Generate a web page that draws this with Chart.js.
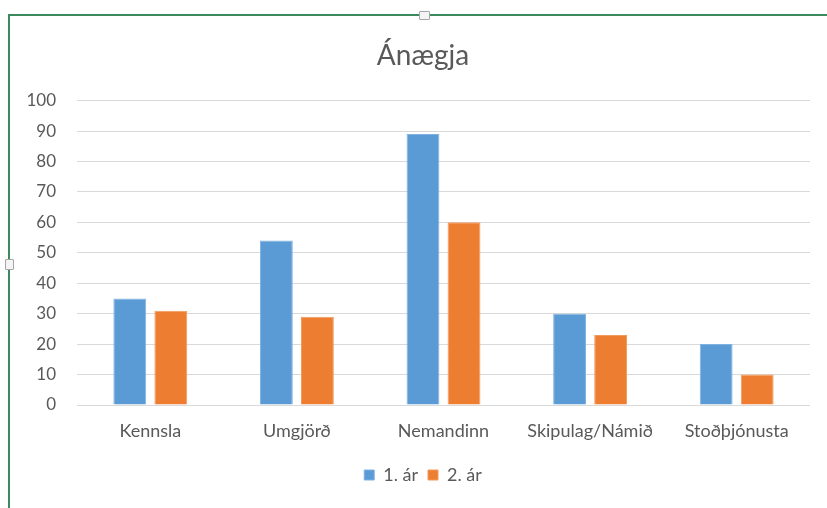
<!DOCTYPE html>
<html>
<head>
<meta charset="utf-8">
<script src="https://cdn.jsdelivr.net/npm/chart.js@4"></script>
<style>
  body { margin: 0; background: #fff; }
  #wrap { position: relative; width: 827px; height: 508px; overflow: hidden; }
  #frame { position: absolute; left: 8px; top: 14px; width: 830px; height: 500px;
           border-top: 2px solid #3b8a5c; border-left: 2px solid #3b8a5c; }
  .handle { position: absolute; width: 9px; height: 7px; background: #f4f4f4;
            border: 1px solid #a6a6a6; border-radius: 1px; }
  canvas { position: absolute; left: 0; top: 0; }
</style>
</head>
<body>
<div id="wrap">
  <div id="frame"></div>
  <div class="handle" style="left:419px;top:11px;"></div>
  <div class="handle" style="left:5px;top:259px;width:7px;height:9px;"></div>
  <canvas id="chart_anaegja" width="827" height="508"></canvas>
</div>
<script>
// gildi lesin af myndinni
const categories = ["Kennsla", "Umgjörð", "Nemandinn", "Skipulag/Námið", "Stoðþjónusta"];
const seriesNames = ["1. ár", "2. ár"];
const ar1 = [35, 54, 89, 30, 20];
const ar2 = [31, 29, 60, 23, 10];
const yTicks = [0, 10, 20, 30, 40, 50, 60, 70, 80, 90, 100];

const textGray = '#595959';
const fontFam = 'Lato, "Open Sans", sans-serif';

new Chart("chart_anaegja", {
  type: "bar",
  data: {
    labels: categories,
    datasets: [{
      label: seriesNames[0],
      data: ar1,
      backgroundColor: '#5b9bd5',
      borderColor: '#7fb2e0',
      borderWidth: 1,
      categoryPercentage: 0.56,
      barPercentage: 0.8
    }, {
      label: seriesNames[1],
      data: ar2,
      backgroundColor: '#ed7d31',
      borderColor: '#f29a5e',
      borderWidth: 1,
      categoryPercentage: 0.56,
      barPercentage: 0.8
    }]
  },
  options: {
    responsive: false,
    animation: false,
    layout: { padding: { top: 28, left: 28, right: 9, bottom: 14 } },
    plugins: {
      title: {
        display: true,
        text: "Ánægja",
        color: textGray,
        font: { family: fontFam, size: 28, weight: 'normal' },
        padding: { top: 11, bottom: 28 }
      },
      legend: {
        position: 'bottom',
        labels: {
          color: textGray,
          font: { family: fontFam, size: 18 },
          boxWidth: 10,
          boxHeight: 10,
          padding: 10
        }
      },
      tooltip: { enabled: false }
    },
    scales: {
      x: {
        grid: { display: false, drawTicks: false },
        border: { display: false },
        ticks: { color: textGray, font: { family: fontFam, size: 18 }, padding: 15 },
        afterFit: (scale) => { scale.height = 51; }
      },
      y: {
        min: 0,
        max: 100,
        afterBuildTicks: (scale) => { scale.ticks = yTicks.map(v => ({ value: v })); },
        grid: { color: '#d9d9d9', drawTicks: false },
        border: { display: false },
        ticks: { color: textGray, font: { family: fontFam, size: 17 }, padding: 21 },
        afterFit: (scale) => { scale.width = 49; }
      },
      // tómur ás hægra megin, bara til að halda teiknisvæðinu á sínum stað
      yPad: {
        position: 'right',
        min: 0,
        max: 100,
        grid: { display: false, drawTicks: false },
        border: { display: false },
        ticks: { display: false },
        afterFit: (scale) => { scale.width = 8; }
      }
    }
  }
});
</script>
</body>
</html>
